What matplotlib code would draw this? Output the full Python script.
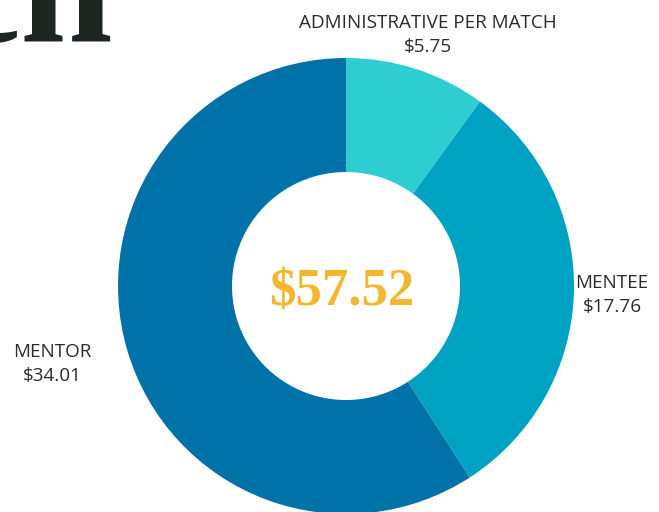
import matplotlib.pyplot as plt

# Cost per match breakdown
categories = ["ADMINISTRATIVE PER MATCH", "MENTEE", "MENTOR"]
values = [5.75, 17.76, 34.01]
value_labels = ["$5.75", "$17.76", "$34.01"]
total_label = "$57.52"
colors = ["#2ecdd2", "#00a2c3", "#0072a8"]

W, H = 659, 512
fig = plt.figure(figsize=(W / 100, H / 100), dpi=100, facecolor="white")
ax = fig.add_axes([0, 0, 1, 1])

cx, cy, r = 346, H - 286, 228
ax.pie(values, colors=colors, startangle=90, counterclock=False,
       radius=r, center=(cx, cy), frame=True,
       wedgeprops=dict(width=r * 0.5, linewidth=0))
ax.set_xlim(0, W)
ax.set_ylim(0, H)
ax.set_aspect("equal")
ax.axis("off")

# cropped title fragment in the top-left corner (cut off in the original too)
ax.text(-54, H - 41, "ch", fontsize=120, fontweight="bold",
        family="Liberation Serif", color="#1d2620", ha="left", va="baseline")

lab = dict(fontsize=13.6, family="Open Sans", color="#2b2b2b", ha="center",
           va="center", linespacing=1.45)
positions = [(428, H - 35), (612, H - 295), (52, H - 364)]
for (x, y), name, val in zip(positions, categories, value_labels):
    ax.text(x, y, f"{name}\n{val}", **lab)

ax.text(cx - 4, H - 292, total_label, fontsize=38, fontweight="bold",
        family="Liberation Serif", color="#f2b72e", ha="center", va="center")

fig.savefig("out.png", dpi=100, facecolor="white")
